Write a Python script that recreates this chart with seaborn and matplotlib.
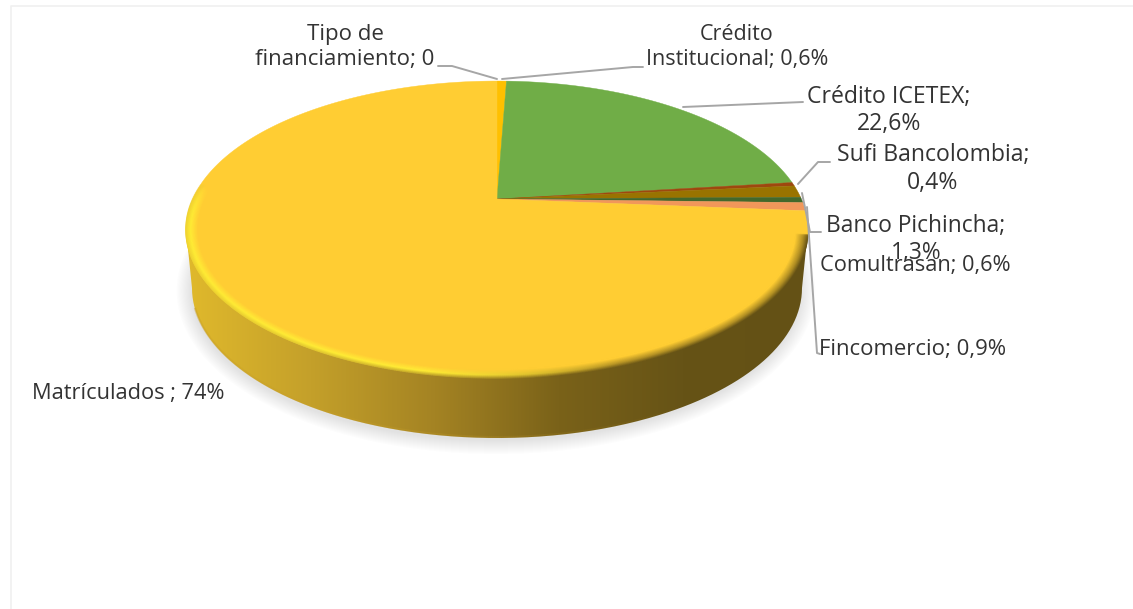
"""Pie 3D de financiamiento de matriculados, dibujado con seaborn + matplotlib."""
import matplotlib
matplotlib.use("Agg")
import matplotlib.pyplot as plt
import numpy as np
import seaborn as sns
from matplotlib.collections import LineCollection
from matplotlib.colors import LinearSegmentedColormap, to_rgb
from matplotlib.patches import PathPatch, Polygon
from matplotlib.path import Path
from matplotlib.transforms import Affine2D

# data
categories = ["Tipo de financiamiento", "Crédito Institucional", "Crédito ICETEX",
              "Sufi Bancolombia", "Banco Pichincha", "Comultrasan", "Fincomercio",
              "Matrículados"]
values = [0, 0.6, 22.6, 0.4, 1.3, 0.6, 0.9, 74]
label_texts = ["Tipo de\nfinanciamiento; 0", "Crédito\nInstitucional; 0,6%",
               "Crédito ICETEX;\n22,6%", "Sufi Bancolombia;\n0,4%",
               "Banco Pichincha;\n1,3%", "Comultrasan; 0,6%", "Fincomercio; 0,9%",
               "Matrículados ; 74%"]

slice_colors = ["#ED7D31", "#FFC000", "#70AD47", "#9E480E", "#997300", "#43682B",
                "#F1975A", "#FFCD33"]
label_pos = [(345, 47), (737, 47), (889, 110.5), (933, 169), (916, 239.5), (915, 266),
             (913, 350), (128, 393)]
label_sizes = [16, 15.5, 16.6, 16.6, 16.4, 15.7, 15.9, 15.7]
leaders = [
    [(438, 66), (452, 66), (497, 79)],
    [(502, 79), (633, 67), (643, 67)],
    [(683, 107), (803, 102)],
    [(798, 184), (818, 162), (830, 162)],
    [(802, 193), (810, 232), (821, 232)],
    None,
    [(807, 207), (817, 353), (820, 354)],
    None,
]

# pie geometry, in pixels of the picture
APEX = (497, 199)
K, A, B = 0.2054, 142.2, 304.4     # perspective of the top face
CX, CY, RX, RY = 497, 229.5, 311, 148.5
LOW_CY, LOW_RX, LOW_RY = 288, 305, 150
WALL_STOPS = ["#E0B92C", "#C4A02A", "#A48323", "#7A6219", "#665316", "#645115"]


def project(xy):
    w = 1 + K * xy[:, 1]
    return np.column_stack([APEX[0] + B * xy[:, 0] / w, APEX[1] - A * xy[:, 1] / w])


def arc(cx, cy, rx, ry, t0=180, t1=0, n=300):
    t = np.radians(np.linspace(t0, t1, n))
    return np.column_stack([cx + rx * np.cos(t), cy + ry * np.sin(t)])


sns.set_theme(style="white")
plt.rcParams["font.family"] = ["Open Sans", "DejaVu Sans"]

fig = plt.figure(figsize=(11.33, 6.09), dpi=100)
ax = fig.add_axes([0, 0, 1, 1])

wedges, _ = ax.pie(values, colors=slice_colors, startangle=90, counterclock=False,
                   radius=1, center=(0, 0))
polys = []
for w in wedges:
    p = w.get_patch_transform().transform_path(w.get_path())
    flat = p.to_polygons(transform=Affine2D().scale(2000), closed_only=True)
    polys.append(project(flat[0] / 2000) if len(flat) else None)
    w.remove()

# soft shadow under the base
for i in range(14):
    ax.fill(*arc(CX - 1, LOW_CY + 3, LOW_RX + i * 1.1, LOW_RY + i * 1.0, 0, 360).T,
            color="#7f7f7f", alpha=0.016, lw=0, zorder=1)

# side wall with horizontal gradient
lower = arc(CX, LOW_CY, LOW_RX, LOW_RY)
side = np.vstack([[(CX - RX, CY)], lower, [(CX + RX, CY)]])
wall_rgb = np.array(sns.blend_palette(WALL_STOPS, 256))
wall_cmap = LinearSegmentedColormap.from_list("wall", wall_rgb)
im = ax.imshow(np.linspace(0, 1, 256)[None, :], cmap=wall_cmap, aspect="auto",
               extent=(CX - RX, CX + RX, 450, 200), zorder=2)
clip = PathPatch(Path(side), transform=ax.transData, fc="none", ec="none")
ax.add_patch(clip)
im.set_clip_path(clip)

# golden lip at the bottom of the wall, fading towards the dark side
lip = arc(CX, LOW_CY - 1, LOW_RX, LOW_RY, 172, 50)
lip_cols = np.tile(to_rgb("#C9A02A"), (len(lip) - 1, 1))
lip_alpha = np.linspace(0.5, 0, len(lip) - 1)
ax.add_collection(LineCollection(np.stack([lip[:-1], lip[1:]], axis=1),
                                 colors=np.column_stack([lip_cols, lip_alpha]),
                                 linewidths=1.6, zorder=3))

# top face
for poly, col in zip(polys, slice_colors):
    if poly is not None:
        ax.add_patch(Polygon(poly, closed=True, fc=col, ec=col, lw=0.3, zorder=3))

# bevel along the front rim: wall colour at the edge, highlight, then the face colour
bright = np.array(to_rgb("#FFEC35"))
face = np.array(to_rgb(slice_colors[-1]))
t_deg = np.linspace(198, 2, 500)
for s in np.linspace(0, 1, 18):
    d = s * 9
    pts = arc(CX, CY, RX - d * 1.4, RY - d, t_deg[0], t_deg[-1], len(t_deg))
    x = pts[:-1, 0]
    edge = wall_rgb[np.clip(((x - (CX - RX)) / (2 * RX) * 255).astype(int), 0, 255)]
    lift = 0.5 * np.clip((560 - x) / 250, 0, 1)[:, None]
    edge = edge * (1 - lift) + bright * lift
    m = np.clip((x - 420) / 200, 0, 1)[:, None]
    mid = bright * (1 - m) + (0.5 * edge + 0.5 * face) * m
    if s < 0.4:
        cols = edge + (mid - edge) * (s / 0.4)
    else:
        cols = mid + (face - mid) * ((s - 0.4) / 0.6)
    tm = t_deg[:-1]
    fade = np.clip((198 - tm) / 20, 0, 1) * np.clip(tm / 6, 0, 1)
    segs = np.stack([pts[:-1], pts[1:]], axis=1)
    ax.add_collection(LineCollection(segs, colors=np.column_stack([cols, fade]),
                                     linewidths=1.1, zorder=4, capstyle="round"))

# leader lines
for pts in leaders:
    if pts:
        ax.plot(*zip(*pts), color="#A6A6A6", lw=1.4, zorder=5, solid_joinstyle="round")

# labels
for (x, y), txt, size in zip(label_pos, label_texts, label_sizes):
    ax.text(x, y, txt, ha="center", va="center", fontsize=size, color="#333333",
            linespacing=1.22 * 16 / size, zorder=6)

# chart frame
ax.plot([11, 11, 1133], [609, 6, 6], color="#F0F0F0", lw=1.2, zorder=0)

ax.set_aspect("auto")
ax.set_xlim(0, 1133)
ax.set_ylim(609, 0)
ax.axis("off")
sns.despine(ax=ax, left=True, bottom=True)

fig.savefig("out.png", dpi=100, facecolor="white")
